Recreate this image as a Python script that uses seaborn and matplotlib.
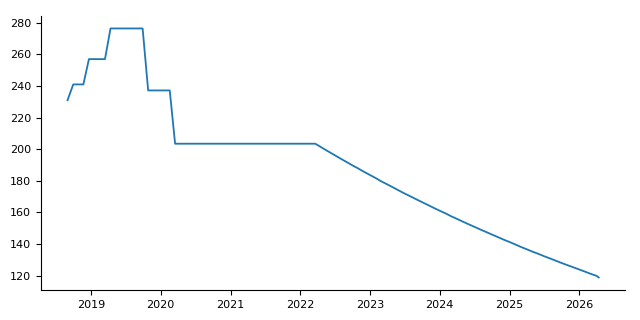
import matplotlib
matplotlib.use("Agg")
import matplotlib.pyplot as plt
import seaborn as sns
import pandas as pd

# Step phase (irregular dates)
step_dates = [
    "2018-09-01", "2018-10-01", "2018-11-23", "2018-12-22",
    "2019-03-16", "2019-04-14", "2019-09-29", "2019-10-28",
    "2020-02-18", "2020-03-17", "2022-03-20",
]
step_values = [231, 241, 241, 257, 257, 276.4, 276.4, 237.2, 237.2, 203.5, 203.5]

# Decline phase (monthly)
decay_dates = list(pd.date_range("2022-04-01", "2026-04-01", freq="MS").strftime("%Y-%m-%d")) + ["2026-04-12"]
decay_values = [
    202.7, 200.5, 198.3, 196.2, 194.0, 191.9, 189.8, 187.8, 185.7,
    183.7, 181.7, 179.7, 177.8, 175.9, 173.9, 172.0, 170.2, 168.3, 166.5, 164.7, 162.9,
    161.1, 159.4, 157.6, 155.9, 154.2, 152.5, 150.9, 149.2, 147.6, 146.0, 144.4, 142.8,
    141.3, 139.7, 138.2, 136.7, 135.2, 133.8, 132.3, 130.9, 129.4, 128.0, 126.6, 125.3,
    123.9, 122.5, 121.2, 119.9,
    118.9,
]

df = pd.DataFrame({
    "date": pd.to_datetime(step_dates + decay_dates),
    "value": step_values + decay_values,
})

fig, ax = plt.subplots(figsize=(6.4, 3.2), dpi=100)
fig.subplots_adjust(left=0.064, right=0.977, bottom=0.094, top=0.95)
sns.lineplot(data=df, x="date", y="value", ax=ax, color="#1f77b4", linewidth=1.3)
ax.set_xlabel("")
ax.set_ylabel("")
ax.set_yticks([120, 140, 160, 180, 200, 220, 240, 260, 280])
ax.tick_params(labelsize=8)
sns.despine(ax=ax)
fig.savefig("out.png", dpi=100)
